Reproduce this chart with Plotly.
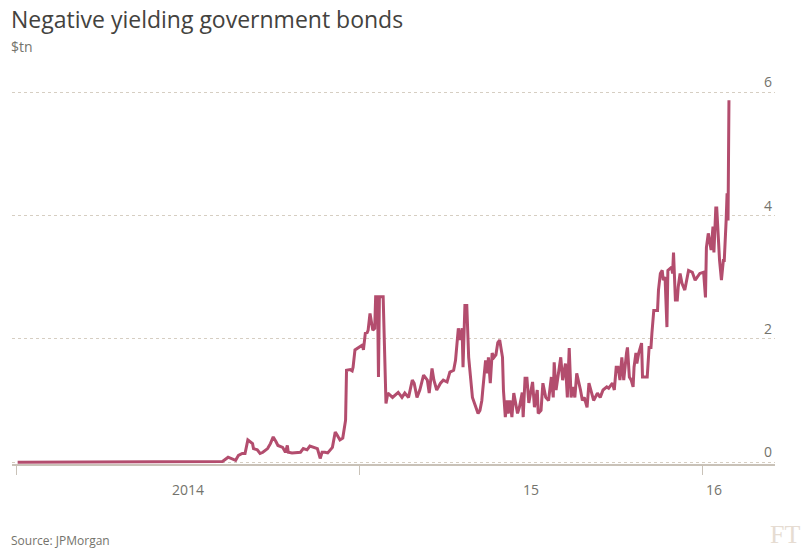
import plotly.graph_objects as go

# ---- data ----
dates = [
    "2014-01-02", "2014-08-06", "2014-08-08", "2014-08-14", "2014-08-18", "2014-08-22", "2014-08-25",
    "2014-08-29", "2014-09-01", "2014-09-04", "2014-09-09", "2014-09-10", "2014-09-14", "2014-09-17",
    "2014-09-20", "2014-09-25", "2014-09-28", "2014-10-01", "2014-10-04", "2014-10-06", "2014-10-11",
    "2014-10-14", "2014-10-16", "2014-10-17", "2014-10-21", "2014-10-26", "2014-10-30", "2014-11-02",
    "2014-11-06", "2014-11-09", "2014-11-13", "2014-11-17", "2014-11-20", "2014-11-22", "2014-11-25",
    "2014-11-28", "2014-12-03", "2014-12-06", "2014-12-08", "2014-12-11", "2014-12-14", "2014-12-15",
    "2014-12-17", "2014-12-18", "2014-12-22", "2014-12-24", "2014-12-25", "2014-12-27", "2014-12-30",
    "2015-01-04", "2015-01-05", "2015-01-07", "2015-01-09", "2015-01-10", "2015-01-12", "2015-01-14",
    "2015-01-15", "2015-01-17", "2015-01-18", "2015-01-20", "2015-01-21", "2015-01-22", "2015-01-26",
    "2015-01-29", "2015-01-31", "2015-02-05", "2015-02-08", "2015-02-11", "2015-02-15", "2015-02-18",
    "2015-02-22", "2015-02-26", "2015-02-28", "2015-03-03", "2015-03-06", "2015-03-10", "2015-03-14",
    "2015-03-16", "2015-03-19", "2015-03-21", "2015-03-24", "2015-03-28", "2015-03-31", "2015-04-04",
    "2015-04-07", "2015-04-11", "2015-04-13", "2015-04-16", "2015-04-18", "2015-04-20", "2015-04-21",
    "2015-04-23", "2015-04-25", "2015-04-27", "2015-05-01", "2015-05-04", "2015-05-07", "2015-05-09",
    "2015-05-11", "2015-05-12", "2015-05-15", "2015-05-17", "2015-05-18", "2015-05-20", "2015-05-22",
    "2015-05-24", "2015-05-26", "2015-05-28", "2015-05-30", "2015-06-02", "2015-06-03", "2015-06-05",
    "2015-06-07", "2015-06-08", "2015-06-10", "2015-06-12", "2015-06-14", "2015-06-18", "2015-06-20",
    "2015-06-23", "2015-06-24", "2015-06-26", "2015-06-28", "2015-06-30", "2015-07-04", "2015-07-06",
    "2015-07-09", "2015-07-10", "2015-07-13", "2015-07-15", "2015-07-18", "2015-07-21", "2015-07-24",
    "2015-07-26", "2015-07-27", "2015-07-29", "2015-07-31", "2015-08-03", "2015-08-05", "2015-08-08",
    "2015-08-10", "2015-08-12", "2015-08-14", "2015-08-16", "2015-08-18", "2015-08-20", "2015-08-24",
    "2015-08-26", "2015-08-28", "2015-08-31", "2015-09-02", "2015-09-05", "2015-09-07", "2015-09-11",
    "2015-09-14", "2015-09-17", "2015-09-21", "2015-09-23", "2015-09-27", "2015-09-29", "2015-10-01",
    "2015-10-03", "2015-10-05", "2015-10-07", "2015-10-08", "2015-10-09", "2015-10-12", "2015-10-13",
    "2015-10-15", "2015-10-17", "2015-10-19", "2015-10-20", "2015-10-22", "2015-10-23", "2015-10-25",
    "2015-10-28", "2015-10-29", "2015-10-31", "2015-11-03", "2015-11-05", "2015-11-07", "2015-11-08",
    "2015-11-10", "2015-11-14", "2015-11-15", "2015-11-17", "2015-11-19", "2015-11-20", "2015-11-22",
    "2015-11-24", "2015-11-25", "2015-11-29", "2015-11-30", "2015-12-01", "2015-12-03", "2015-12-05",
    "2015-12-06", "2015-12-08", "2015-12-10", "2015-12-13", "2015-12-17", "2015-12-21", "2015-12-24",
    "2015-12-29", "2016-01-02", "2016-01-04", "2016-01-05", "2016-01-07", "2016-01-10", "2016-01-12",
    "2016-01-13", "2016-01-15", "2016-01-16", "2016-01-19", "2016-01-21", "2016-01-23", "2016-01-24",
    "2016-01-26", "2016-01-27", "2016-01-28", "2016-01-29",
]

bonds_tn = [
    0.00, 0.00, 0.01, 0.08, 0.05, 0.03, 0.11,
    0.14, 0.14, 0.36, 0.30, 0.22, 0.20, 0.14,
    0.16, 0.22, 0.30, 0.41, 0.33, 0.27, 0.24,
    0.16, 0.27, 0.16, 0.15, 0.15, 0.16, 0.22,
    0.20, 0.26, 0.24, 0.22, 0.06, 0.16, 0.16,
    0.15, 0.24, 0.49, 0.44, 0.36, 0.39, 0.52,
    0.68, 1.49, 1.50, 1.48, 1.54, 1.82, 1.85,
    1.90, 1.82, 2.09, 2.10, 2.14, 2.41, 2.25,
    2.14, 2.17, 2.68, 2.68, 1.38, 2.68, 2.68,
    0.95, 1.12, 1.05, 1.09, 1.13, 1.05, 1.12,
    1.05, 1.33, 1.28, 1.05, 1.17, 1.41, 1.33,
    1.12, 1.52, 1.33, 1.17, 1.28, 1.33, 1.30,
    1.46, 1.49, 1.65, 2.17, 1.98, 2.17, 1.54,
    2.54, 2.54, 1.70, 1.05, 0.92, 0.79, 0.84,
    1.00, 1.17, 1.65, 1.44, 1.70, 1.28, 1.77,
    1.70, 1.74, 1.94, 1.98, 1.70, 1.17, 0.73,
    1.00, 0.79, 1.00, 0.73, 1.12, 0.79, 0.89,
    1.13, 0.73, 1.36, 1.36, 0.96, 1.30, 0.89,
    1.17, 0.79, 0.84, 1.28, 1.05, 1.00, 1.38,
    1.05, 1.62, 1.17, 1.38, 1.70, 1.33, 1.60,
    1.05, 1.85, 1.05, 1.22, 1.05, 1.44, 1.17,
    1.00, 1.05, 0.89, 1.28, 1.12, 1.00, 1.12,
    1.05, 1.17, 1.22, 1.20, 1.28, 1.17, 1.54,
    1.54, 1.33, 1.70, 1.45, 1.33, 1.77, 1.86,
    1.38, 1.33, 1.22, 1.54, 1.77, 1.60, 1.77,
    1.93, 1.38, 1.38, 1.38, 1.86, 1.86, 2.09,
    2.46, 2.46, 2.79, 3.06, 3.11, 2.95, 3.00,
    2.19, 3.11, 3.16, 3.06, 3.40, 2.63, 2.63,
    2.84, 3.06, 2.90, 2.79, 3.11, 3.08, 2.95,
    3.06, 3.08, 2.67, 3.48, 3.71, 3.44, 3.82,
    3.40, 4.12, 4.12, 3.27, 2.95, 3.27, 3.27,
    3.92, 4.36, 3.92, 5.87,
]

year_ticks = ["2014-01-01", "2015-01-01", "2016-01-01"]
year_labels = ["2014", "15", "16"]
year_label_dates = ["2014-07-02", "2015-07-02", "2016-01-13"]
y_ticks = [0, 2, 4, 6]

# ---- layout geometry ----
W, H = 806, 549
ML, MR, MT, MB = 12, 31, 58, 85
PW, PH = W - ML - MR, H - MT - MB

def px_x(px):
    return (px - ML) / PW

def px_y(py):
    return (H - MB - py) / PH

GREY = "#74736c"
LINE = "#b34d6e"
GRID = "#d6cec2"

fig = go.Figure()
fig.add_trace(go.Scatter(
    x=dates, y=bonds_tn, mode="lines",
    line=dict(color=LINE, width=3),
    hoverinfo="x+y", showlegend=False,
))

fig.update_layout(
    width=W, height=H,
    margin=dict(l=ML, r=MR, t=MT, b=MB),
    paper_bgcolor="white", plot_bgcolor="white",
    font=dict(family="Open Sans, sans-serif", color=GREY),
    xaxis=dict(
        type="date",
        range=["2013-12-27", "2016-03-18"],
        tickvals=year_ticks, ticktext=["", "", ""],
        ticks="outside", ticklen=9, tickwidth=1, tickcolor="#c9c2b8",
        showgrid=False, zeroline=False,
        showline=True, linecolor="#c9c2b8", linewidth=2,
    ),
    yaxis=dict(
        range=[-0.03, -0.03 + PH / 61.67],
        tickvals=y_ticks,
        side="right", ticklabelposition="inside top",
        tickfont=dict(size=14, color=GREY),
        showgrid=True, gridcolor=GRID, griddash="dot", gridwidth=1,
        zeroline=False, showline=False, ticks="",
    ),
)

for lab, d in zip(year_labels, year_label_dates):
    fig.add_annotation(x=d, y=px_y(489), xref="x", yref="paper", text=lab,
                       showarrow=False, font=dict(size=14, color=GREY),
                       xanchor="center", yanchor="middle")

fig.add_annotation(x=px_x(9), y=px_y(19), xref="paper", yref="paper",
                   text="Negative yielding government bonds", showarrow=False,
                   font=dict(size=23, color="#43423e"), xanchor="left", yanchor="middle")
fig.add_annotation(x=px_x(9), y=px_y(46), xref="paper", yref="paper",
                   text="$tn", showarrow=False,
                   font=dict(size=14, color=GREY), xanchor="left", yanchor="middle")
fig.add_annotation(x=px_x(9), y=px_y(540), xref="paper", yref="paper",
                   text="Source: JPMorgan", showarrow=False,
                   font=dict(size=12, color=GREY), xanchor="left", yanchor="middle")
fig.add_annotation(x=px_x(802), y=px_y(534), xref="paper", yref="paper",
                   text="FT", showarrow=False,
                   font=dict(size=26, color="#e6dcd2", family="Liberation Serif, serif"),
                   xanchor="right", yanchor="middle")

fig.write_html("out.html")
